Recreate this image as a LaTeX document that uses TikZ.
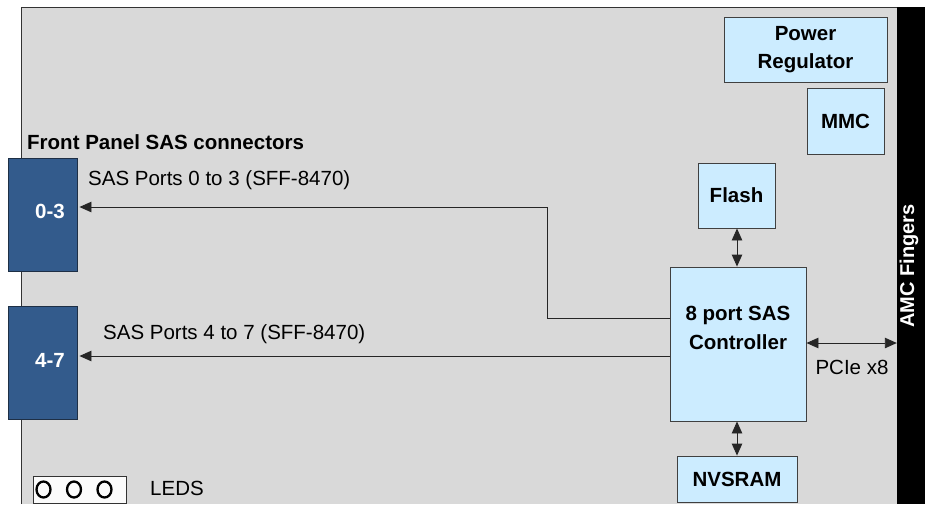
\documentclass[tikz,border=0pt]{standalone}
\usepackage{fontspec}
\setmainfont{Liberation Sans}
\usetikzlibrary{arrows.meta}

\definecolor{boardgray}{HTML}{D9D9D9}
\definecolor{chipblue}{HTML}{CCECFF}
\definecolor{portblue}{HTML}{335B8C}
\definecolor{portedge}{HTML}{1E2F45}

\begin{document}
\begin{tikzpicture}[
  x=1pt,y=-1pt,
  >={Triangle[length=12pt,width=10.5pt]},
  every node/.style={font=\fontsize{20.5}{27}\selectfont},
  chip box/.style={rectangle,draw=black!75,line width=0.9pt,fill=chipblue,inner sep=0pt},
  chip text/.style={font=\fontsize{20.5}{28.5}\selectfont\bfseries,align=center},
  port box/.style={rectangle,draw=portedge,line width=0.9pt,fill=portblue,minimum width=69,minimum height=113,inner sep=0pt},
  port text/.style={font=\fontsize{20.5}{25}\selectfont\bfseries,text=white},
  bus/.style={draw=black!85,line width=0.9pt},
  bus label/.style={inner sep=0pt},
]
\useasboundingbox (0,0) rectangle (925,504);
% board
\fill[boardgray] (21,7) rectangle (897,504);
\draw[black!80,line width=0.9pt] (21,504) -- (21,7) -- (897,7);
\node[rectangle,fill=black,minimum width=28,minimum height=497,inner sep=0pt] (amc) at (911,255.5) {};
\node[rotate=90,text=white,font=\fontsize{20}{24}\selectfont\bfseries] (amctext) at (909,266) {AMC Fingers};

% chips
\node[chip box,minimum width=163,minimum height=65] (pwr) at (805.5,49.5) {};
\node[chip text] at (pwr) {Power\\Regulator};
\node[chip box,minimum width=77,minimum height=66] (mmc) at (845.5,121) {};
\node[chip text] at (mmc) {MMC};
\node[chip box,minimum width=77,minimum height=65] (flash) at (736.5,195.5) {};
\node[chip text] at (flash) {Flash};
\node[chip box,minimum width=136,minimum height=154] (ctrl) at (738,344) {};
\node[chip text] at (738,328) {8 port SAS\\Controller};
\node[chip box,minimum width=120,minimum height=46] (nvsram) at (737,479) {};
\node[chip text] at (nvsram) {NVSRAM};

% front panel
\node[font=\fontsize{20.5}{25}\selectfont\bfseries,anchor=west,inner sep=0pt] (fptitle) at (27,142) {Front Panel SAS connectors};
\node[port box] (port03) at (42.5,214.5) {};
\node[port text] at (50,211) {0-3};
\node[port box] (port47) at (42.5,362.5) {};
\node[port text] at (50,360) {4-7};

% SAS links
\coordinate (tap) at (547,318);
\coordinate (bend) at (547,207);
\coordinate (row47) at (0,356);
\draw[bus,->] (ctrl.west |- tap) -- (tap) -- (bend) -- ([xshift=2]port03.east |- bend);
\node[bus label,anchor=west] at (88,180) {SAS Ports 0 to 3 (SFF-8470)};
\draw[bus,->] (ctrl.west |- row47) -- ([xshift=2]port47.east |- row47);
\node[bus label,anchor=west] at (103,334) {SAS Ports 4 to 7 (SFF-8470)};

% local buses
\draw[bus,<->] (flash.south -| 737,0) -- (ctrl.north -| 737,0);
\draw[bus,<->] (ctrl.south -| 737,0) -- (nvsram.north -| 737,0);
\draw[bus,<->] (ctrl.east |- 0,343) -- (amc.west |- 0,343);
\node[bus label] at (852,367) {PCIe x8};

% LEDs
\node[rectangle,draw=black!80,line width=0.9pt,fill=white!90!boardgray,minimum width=93,minimum height=27,inner sep=0pt] (leds) at (79.5,489.5) {};
\foreach \cx in {43.5,74,104.5}
  \draw[black,line width=2.3pt] (\cx,489.5) ellipse (7pt and 8pt);
\node[bus label,anchor=west] at (150,488) {LEDS};
\end{tikzpicture}
\end{document}
